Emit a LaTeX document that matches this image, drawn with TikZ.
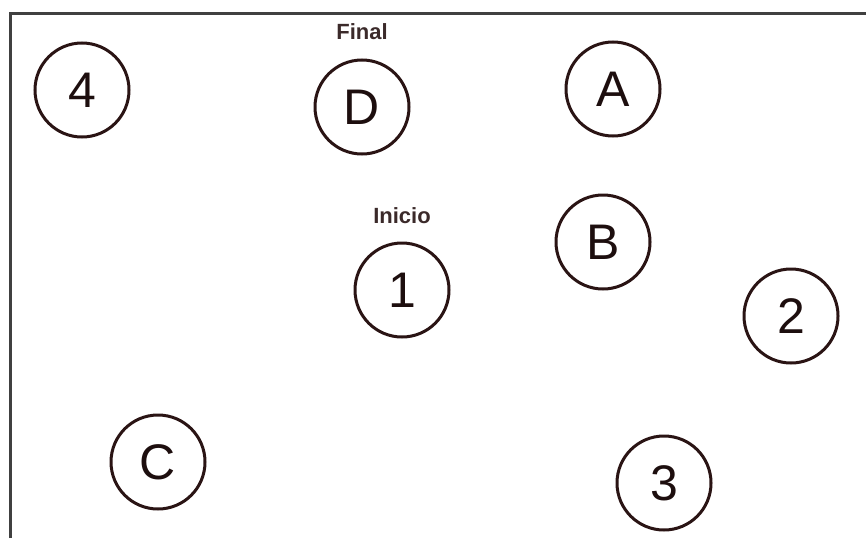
\documentclass[tikz,border=0pt]{standalone}
\usepackage{fontspec}
\setmainfont{Liberation Sans}
\begin{document}
\begin{tikzpicture}[x=1pt,y=-1pt,
  statenode/.style={circle,draw=ringcol,line width=3pt,minimum size=94pt,inner sep=0pt,
    font=\fontsize{50}{50}\selectfont,text=ringcol!70!black},
  lbl/.style={font=\fontsize{22}{22}\selectfont\bfseries,text=ringcol!80!gray}]
\definecolor{ringcol}{HTML}{2A1414}
\useasboundingbox (0,0) rectangle (866,538);
\coordinate (tl) at (10,13);
\coordinate (tr) at (866,13);
\coordinate (bl) at (10,538);
\draw[line width=3pt,black!75] (bl) -- (tl) -- (tr);
\node[statenode] (n4) at (82,90) {4};
\node[statenode] (nD) at (362,107) {D};
\node[statenode] (nA) at (613,89) {A};
\node[statenode] (nB) at (603,242) {B};
\node[statenode] (n1) at (402,290) {1};
\node[statenode] (n2) at (791,316) {2};
\node[statenode] (nC) at (158,462) {C};
\node[statenode] (n3) at (664,483) {3};
\node[lbl] (final) at (362,32) {Final};
\node[lbl] (inicio) at (402,216) {Inicio};
\end{tikzpicture}
\end{document}
